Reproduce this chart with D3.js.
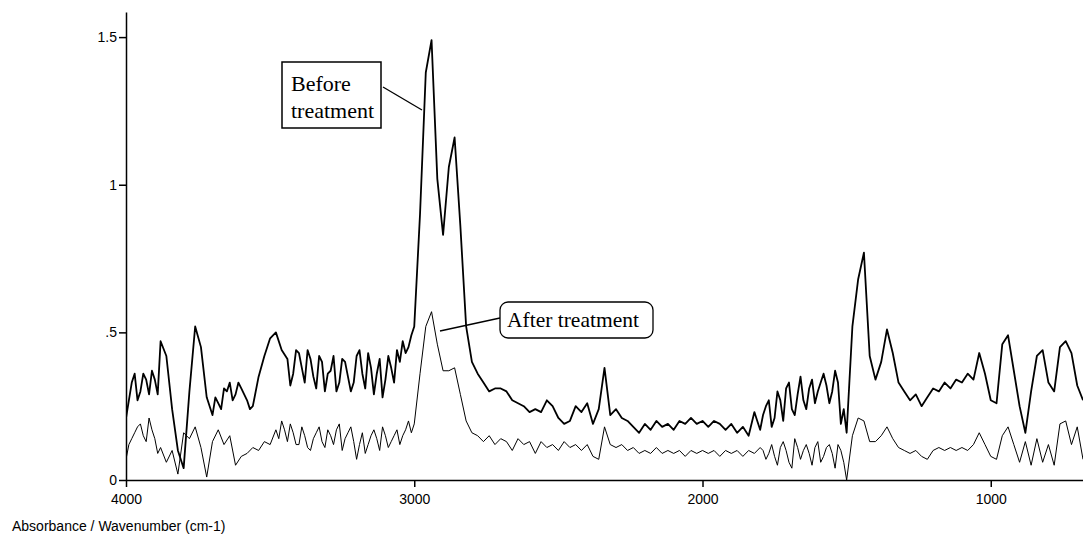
<!DOCTYPE html>
<html>
<head>
<meta charset="utf-8">
<script src="https://cdn.jsdelivr.net/npm/d3@7"></script>
<style>
  body { margin: 0; background: #fff; }
  svg { display: block; }
  .axis text { font-family: "Liberation Sans", Arial, sans-serif; font-size: 14px; fill: #000; }
  .axis path, .axis line { stroke: #000; stroke-width: 1.5; }
</style>
</head>
<body>
<div id="chart"></div>
<script>
// IR spectra, [wavenumber (cm-1), absorbance]
var before = [
  [4000,0.21],[3990,0.27],[3980,0.33],[3970,0.36],[3960,0.27],[3950,0.30],[3940,0.36],[3930,0.34],
  [3920,0.29],[3910,0.37],[3900,0.34],[3890,0.29],[3880,0.47],[3860,0.42],
  [3840,0.24],[3820,0.10],[3800,0.04],[3780,0.30],[3760,0.52],[3740,0.45],[3720,0.28],[3700,0.22],
  [3690,0.28],[3680,0.26],[3670,0.24],[3660,0.31],[3650,0.30],[3640,0.33],[3630,0.27],[3620,0.29],
  [3610,0.33],[3600,0.31],[3590,0.29],[3580,0.27],[3570,0.24],[3560,0.25],[3540,0.35],
  [3520,0.42],[3500,0.48],[3480,0.50],[3460,0.44],[3440,0.41],[3430,0.32],[3420,0.36],[3410,0.44],
  [3400,0.43],[3390,0.38],[3380,0.33],[3370,0.44],[3360,0.41],[3350,0.35],[3340,0.31],[3330,0.42],
  [3320,0.40],[3310,0.30],[3300,0.36],[3290,0.37],[3280,0.42],[3270,0.30],[3260,0.33],[3250,0.41],
  [3240,0.40],[3230,0.35],[3220,0.30],[3210,0.33],[3200,0.42],[3190,0.44],[3180,0.36],[3170,0.31],
  [3160,0.43],[3150,0.38],[3140,0.29],[3130,0.36],[3120,0.41],[3110,0.28],[3100,0.34],[3090,0.42],
  [3080,0.38],[3070,0.33],[3060,0.44],[3050,0.40],[3040,0.47],[3030,0.43],[3020,0.45],[3010,0.49],
  [3000,0.52],[2980,0.90],[2960,1.38],[2940,1.49],[2920,1.02],[2900,0.83],
  [2880,1.06],[2860,1.16],[2840,0.86],[2820,0.52],[2800,0.40],[2780,0.36],[2760,0.33],[2740,0.30],
  [2720,0.31],[2700,0.31],[2680,0.30],[2660,0.27],[2640,0.26],[2620,0.25],[2600,0.23],[2580,0.24],
  [2560,0.23],[2540,0.27],[2520,0.25],[2500,0.21],[2480,0.19],[2460,0.20],[2440,0.25],[2420,0.23],
  [2400,0.26],[2380,0.19],[2360,0.24],[2340,0.38],[2320,0.22],[2300,0.24],[2280,0.21],[2260,0.20],
  [2240,0.18],[2220,0.16],[2200,0.19],[2180,0.17],[2160,0.20],[2140,0.18],[2120,0.19],[2100,0.17],
  [2080,0.20],[2060,0.19],[2040,0.21],[2020,0.19],[2000,0.20],[1980,0.18],[1960,0.20],[1940,0.19],
  [1920,0.17],[1900,0.19],[1880,0.16],[1860,0.18],[1840,0.15],[1820,0.23],[1810,0.20],[1800,0.17],
  [1790,0.22],[1780,0.25],[1770,0.27],[1760,0.18],[1750,0.21],[1740,0.30],[1730,0.27],[1720,0.20],
  [1710,0.31],[1700,0.33],[1690,0.24],[1680,0.22],[1670,0.29],[1660,0.35],[1650,0.27],[1640,0.24],
  [1630,0.31],[1620,0.34],[1610,0.26],[1600,0.30],[1590,0.33],[1580,0.36],[1570,0.32],[1560,0.26],
  [1550,0.30],[1540,0.37],[1530,0.33],[1520,0.19],[1510,0.24],[1500,0.16],[1480,0.52],[1460,0.68],
  [1440,0.77],[1420,0.42],[1400,0.34],[1380,0.40],[1360,0.51],[1340,0.43],[1320,0.33],[1300,0.30],
  [1280,0.27],[1260,0.29],[1240,0.25],[1220,0.28],[1200,0.31],[1180,0.30],[1160,0.33],[1140,0.31],
  [1120,0.34],[1100,0.33],[1080,0.36],[1060,0.34],[1040,0.43],[1020,0.36],[1000,0.27],[980,0.26],
  [960,0.46],[940,0.49],[920,0.37],[900,0.25],[880,0.16],[860,0.30],[840,0.42],[820,0.44],
  [800,0.33],[780,0.30],[760,0.45],[740,0.47],[720,0.43],[700,0.32],[680,0.27]
];

var after = [
  [4000,0.07],[3990,0.12],[3980,0.14],[3970,0.16],[3960,0.18],[3950,0.19],[3940,0.15],[3930,0.13],
  [3920,0.21],[3910,0.17],[3900,0.14],[3890,0.09],[3880,0.11],[3860,0.06],
  [3840,0.10],[3820,0.02],[3800,0.16],[3780,0.14],[3760,0.18],[3740,0.11],[3720,0.01],[3700,0.13],
  [3680,0.17],[3660,0.12],[3640,0.15],[3620,0.05],[3600,0.08],[3580,0.09],[3560,0.11],[3540,0.10],
  [3520,0.13],[3500,0.12],[3480,0.17],[3470,0.14],[3460,0.20],[3450,0.17],[3440,0.13],[3430,0.19],
  [3420,0.16],[3410,0.12],[3400,0.12],[3390,0.18],[3380,0.15],[3370,0.11],[3360,0.10],[3350,0.14],
  [3340,0.16],[3330,0.18],[3320,0.13],[3310,0.11],[3300,0.17],[3290,0.15],[3280,0.12],[3270,0.17],
  [3260,0.19],[3250,0.10],[3240,0.14],[3230,0.16],[3220,0.18],[3210,0.13],[3200,0.07],[3190,0.12],
  [3180,0.16],[3170,0.09],[3160,0.12],[3150,0.15],[3140,0.17],[3130,0.14],[3120,0.10],[3110,0.18],
  [3100,0.15],[3090,0.11],[3080,0.13],[3070,0.15],[3060,0.17],[3050,0.12],[3040,0.15],[3030,0.17],
  [3020,0.20],[3010,0.16],[3000,0.19],[2980,0.36],[2960,0.52],[2940,0.57],[2920,0.46],[2900,0.37],
  [2880,0.37],[2860,0.38],[2840,0.29],[2820,0.20],[2800,0.16],[2780,0.15],[2760,0.13],[2740,0.15],
  [2720,0.12],[2700,0.14],[2680,0.13],[2660,0.10],[2640,0.14],[2620,0.12],[2600,0.13],[2580,0.09],
  [2560,0.13],[2540,0.11],[2520,0.12],[2500,0.10],[2480,0.13],[2460,0.11],[2440,0.12],[2420,0.10],
  [2400,0.12],[2380,0.08],[2360,0.07],[2340,0.18],[2320,0.12],[2300,0.11],[2280,0.12],[2260,0.10],
  [2240,0.11],[2220,0.09],[2200,0.10],[2180,0.09],[2160,0.11],[2140,0.09],[2120,0.10],[2100,0.09],
  [2080,0.10],[2060,0.08],[2040,0.10],[2020,0.09],[2000,0.10],[1980,0.09],[1960,0.10],[1940,0.08],
  [1920,0.10],[1900,0.09],[1880,0.10],[1860,0.08],[1840,0.10],[1820,0.09],[1800,0.11],[1790,0.10],
  [1780,0.07],[1770,0.09],[1760,0.12],[1750,0.08],[1740,0.05],[1730,0.11],[1720,0.13],[1710,0.10],
  [1700,0.06],[1690,0.04],[1680,0.14],[1670,0.11],[1660,0.07],[1650,0.10],[1640,0.12],[1630,0.09],
  [1620,0.05],[1610,0.11],[1600,0.13],[1590,0.06],[1580,0.08],[1570,0.11],[1560,0.12],[1550,0.09],
  [1540,0.04],[1530,0.12],[1520,0.10],[1510,0.06],[1500,0.00],[1480,0.15],[1460,0.21],
  [1440,0.20],[1420,0.13],[1400,0.13],[1380,0.15],[1360,0.18],[1340,0.14],[1320,0.11],[1300,0.10],
  [1280,0.09],[1260,0.10],[1240,0.08],[1220,0.07],[1200,0.10],[1180,0.11],[1160,0.10],[1140,0.11],
  [1120,0.10],[1100,0.11],[1080,0.10],[1060,0.12],[1040,0.16],[1020,0.12],[1000,0.08],[980,0.07],
  [960,0.15],[940,0.18],[920,0.12],[900,0.06],[880,0.13],[860,0.05],[840,0.14],[820,0.06],
  [800,0.12],[780,0.05],[760,0.19],[740,0.20],[720,0.12],[700,0.18],[680,0.07]
];

var xTicks = [4000, 3000, 2000, 1000];
var yTicks = [0, 0.5, 1, 1.5];
var yTickLabels = ["0", ".5", "1", "1.5"];

var width = 1083,
height = 546;

var svg = d3.select("#chart")
.append("svg")
.attr("width", width)
.attr("height", height);

var xScale = d3.scaleLinear()
.domain([4000, 680])
.range([126, 1083]);

var yScale = d3.scaleLinear()
.domain([0, 1.585])
.range([480, 12]);

svg.append("clipPath")
.attr("id", "plot-clip")
.append("rect")
.attr("x", 126)
.attr("y", 0)
.attr("width", width - 126)
.attr("height", 481);

var line = d3.line()
.x(function(d) { return xScale(d[0]); })
.y(function(d) { return yScale(d[1]); });

svg.append("path")
.datum(after)
.attr("d", line)
.attr("fill", "none")
.attr("stroke", "#000")
.attr("stroke-width", 1)
.attr("clip-path", "url(#plot-clip)");

svg.append("path")
.datum(before)
.attr("d", line)
.attr("fill", "none")
.attr("stroke", "#000")
.attr("stroke-width", 1.8)
.attr("stroke-linejoin", "round")
.attr("clip-path", "url(#plot-clip)");

// axes
svg.append("g")
.attr("class", "axis")
.attr("transform", "translate(0,480)")
.call(d3.axisBottom(xScale)
  .tickValues(xTicks)
  .tickFormat(d3.format("d"))
  .tickSize(7)
  .tickSizeOuter(0)
  .tickPadding(7));

svg.append("g")
.attr("class", "axis")
.attr("transform", "translate(126,0)")
.call(d3.axisLeft(yScale)
  .tickValues(yTicks)
  .tickFormat(function(d, i) { return yTickLabels[i]; })
  .tickSize(7)
  .tickSizeOuter(0)
  .tickPadding(2));

svg.append("text")
.attr("x", 12)
.attr("y", 531)
.attr("font-family", "Liberation Sans, Arial, sans-serif")
.attr("font-size", "14px")
.text("Absorbance / Wavenumber (cm-1)");

// callouts
var serif = "Liberation Serif, Times New Roman, serif";

svg.append("line")
.attr("x1", 383).attr("y1", 87)
.attr("x2", 422).attr("y2", 110)
.attr("stroke", "#000").attr("stroke-width", 1.3);

svg.append("rect")
.attr("x", 282).attr("y", 62)
.attr("width", 99).attr("height", 66)
.attr("fill", "#fff")
.attr("stroke", "#000").attr("stroke-width", 1.5);

svg.append("text")
.attr("x", 291).attr("y", 91)
.attr("font-family", serif).attr("font-size", "22px")
.text("Before");

svg.append("text")
.attr("x", 291).attr("y", 118)
.attr("font-family", serif).attr("font-size", "22px")
.text("treatment");

svg.append("line")
.attr("x1", 440).attr("y1", 331)
.attr("x2", 500).attr("y2", 318)
.attr("stroke", "#000").attr("stroke-width", 1.3);

svg.append("rect")
.attr("x", 500).attr("y", 302)
.attr("width", 153).attr("height", 36)
.attr("rx", 8).attr("ry", 8)
.attr("fill", "#fff")
.attr("stroke", "#000").attr("stroke-width", 1.3);

svg.append("text")
.attr("x", 507).attr("y", 327)
.attr("font-family", serif).attr("font-size", "21.5px")
.text("After treatment");
</script>
</body>
</html>
